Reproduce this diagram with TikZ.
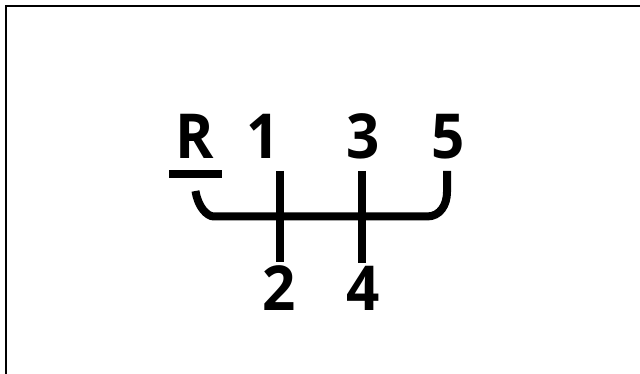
\documentclass[tikz,border=0pt]{standalone}
\usepackage{fontspec}
\setmainfont[FakeStretch=0.94]{Open Sans}
\tikzset{
  gear/.style={inner sep=0pt, anchor=base, font=\fontsize{62}{62}\selectfont\bfseries},
  shift line/.style={line width=8pt, line cap=butt, black},
  frame line/.style={line width=2.2pt, black}
}
\begin{document}
\begin{tikzpicture}[x=1pt,y=-1pt]
\useasboundingbox (0,0) rectangle (640,374);
\fill[white] (0,0) rectangle (640,374);
\coordinate (fb) at (6,374);
\coordinate (ftl) at (6,6);
\coordinate (ftr) at (640,6);
\draw[frame line] (fb) -- (ftl) -- (ftr);
\node[gear] (R) at (195,159) {R};
\node[gear] (g1) at (263,159) {1};
\node[gear] (g3) at (363.5,159) {3};
\node[gear] (g5) at (448.5,159) {5};
\node[gear] (g2) at (279,310) {2};
\node[gear] (g4) at (363.5,310) {4};
\coordinate (barL) at (169,174.5);
\coordinate (barR) at (222,174.5);
\draw[shift line] (barL) -- (barR);
\coordinate (a1) at (280,171);
\coordinate (b1) at (280,262);
\coordinate (a3) at (362,171);
\coordinate (b3) at (362,263);
\draw[shift line] (a1) -- (b1);
\draw[shift line] (a3) -- (b3);
\coordinate (l0) at (195.5,191);
\coordinate (l1) at (198,207) ;
\coordinate (l2) at (207,216.5);
\coordinate (l3) at (214,216.5);
\coordinate (r3) at (427,216.5);
\coordinate (r2) at (440,216.5);
\coordinate (r1) at (447,205);
\coordinate (r0) at (447,192);
\coordinate (r00) at (447,171);
\draw[shift line] (l0) .. controls (l1) and (l2) .. (l3) -- (r3) .. controls (r2) and (r1) .. (r0) -- (r00);
\end{tikzpicture}
\end{document}
